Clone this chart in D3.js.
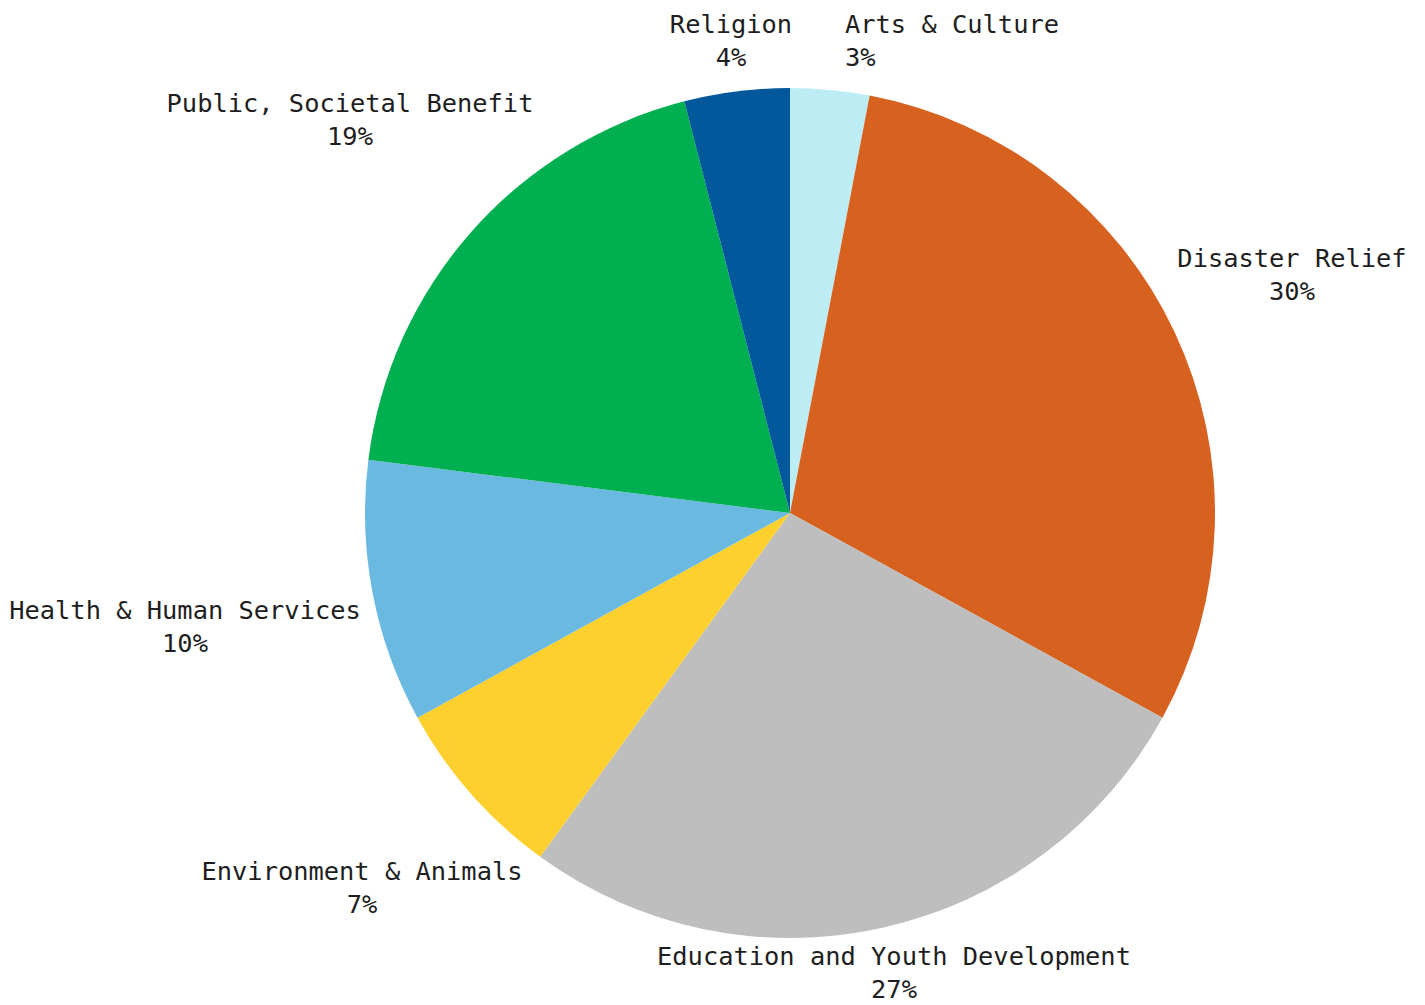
<!DOCTYPE html>
<html><head><meta charset="utf-8">
<script src="https://cdn.jsdelivr.net/npm/d3@7"></script>
<style>html,body{margin:0;padding:0;background:#fff;}svg{display:block;}</style>
</head><body>
<svg id="chart" width="1425" height="1005"></svg>
<script>
const categories = ["Arts & Culture","Disaster Relief","Education and Youth Development","Environment & Animals","Health & Human Services","Public, Societal Benefit","Religion"];
const values = [3,30,27,7,10,19,4];
const colors = ["#BDEDF4","#D7611F","#BEBEBE","#FDD02E","#69B9E1","#00AF50","#03589B"];

// label layout (anchor x, first baseline y, text-anchor)
const labelLayout = [
  {x:845, y:33, anchor:"start"},
  {x:1292, y:267, anchor:"middle"},
  {x:894, y:965, anchor:"middle"},
  {x:362, y:880, anchor:"middle"},
  {x:185, y:619, anchor:"middle"},
  {x:350, y:112, anchor:"middle"},
  {x:731, y:33, anchor:"middle"}
];

const svg = d3.select("#chart");
const cx = 790, cy = 513, R = 425;
const data = categories.map((c,i)=>({name:c, value:values[i], color:colors[i], i}));
const pie = d3.pie().value(d=>d.value).sort(null);
const arc = d3.arc().innerRadius(0).outerRadius(R);
const g = svg.append("g").attr("transform",`translate(${cx},${cy})`);
g.selectAll("path").data(pie(data)).join("path")
  .attr("d",arc).attr("fill",d=>d.data.color);

const total = d3.sum(values);
const fmt = v => Math.round(v/total*100) + "%";
const lbl = svg.append("g").attr("font-family","'DejaVu Sans Mono', 'Liberation Mono', monospace")
  .attr("font-size",25.4).attr("fill","#1e1e1e");
data.forEach((d,i)=>{
  const L = labelLayout[i];
  const t = lbl.append("text").attr("text-anchor",L.anchor);
  t.append("tspan").attr("x",L.x).attr("y",L.y).text(d.name);
  t.append("tspan").attr("x",L.x).attr("y",L.y+33).text(fmt(d.value));
});
</script>
</body></html>
